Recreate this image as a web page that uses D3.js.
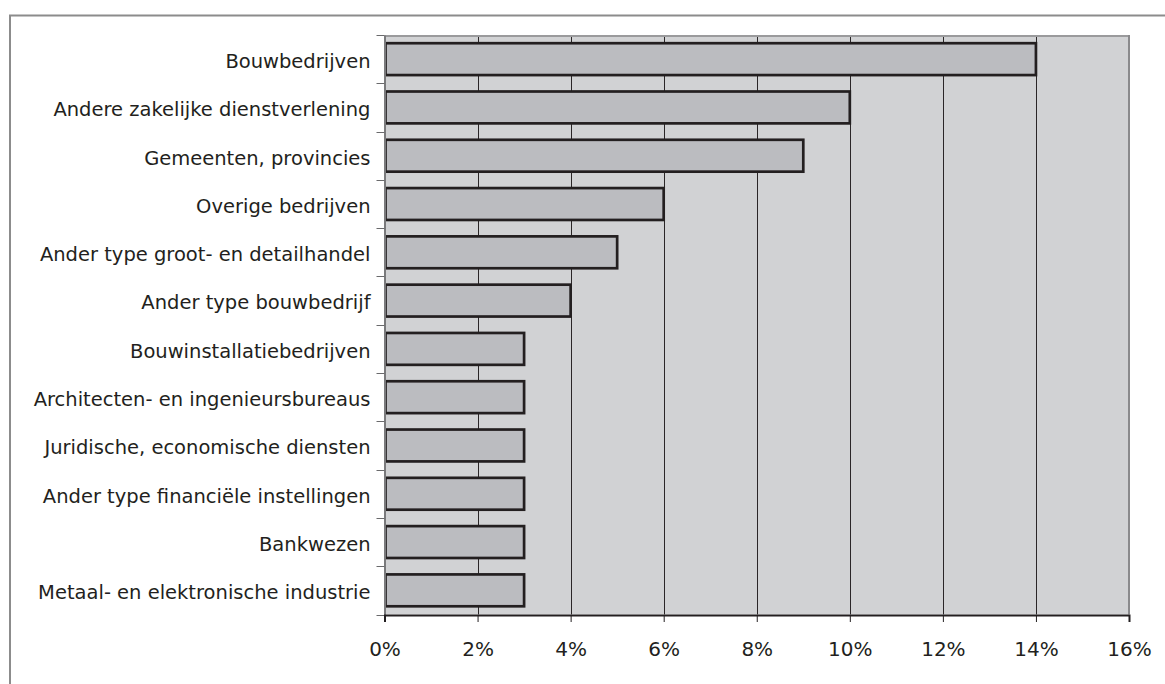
<!DOCTYPE html>
<html>
<head>
<meta charset="utf-8">
<script src="https://cdn.jsdelivr.net/npm/d3@7"></script>
<style>
  html, body { margin: 0; padding: 0; background: #fff; }
  svg { display: block; font-family: "DejaVu Sans", sans-serif; }
</style>
</head>
<body>
<svg id="chart" width="1165" height="684"></svg>
<script>
// Sectors, top to bottom, with their share in percent
const categories = [
  "Bouwbedrijven",
  "Andere zakelijke dienstverlening",
  "Gemeenten, provincies",
  "Overige bedrijven",
  "Ander type groot- en detailhandel",
  "Ander type bouwbedrijf",
  "Bouwinstallatiebedrijven",
  "Architecten- en ingenieursbureaus",
  "Juridische, economische diensten",
  "Ander type financiële instellingen",
  "Bankwezen",
  "Metaal- en elektronische industrie"
];
const shares = [14, 10, 9, 6, 5, 4, 3, 3, 3, 3, 3, 3];
const xTicks = [0, 2, 4, 6, 8, 10, 12, 14, 16];

const svg = d3.select("#chart");

// outer frame
svg.append("rect")
  .attr("x", 10).attr("y", 15.5)
  .attr("width", 1200).attr("height", 700)
  .attr("fill", "none").attr("stroke", "#8c8c8c").attr("stroke-width", 2);

const plotL = 384.5, plotR = 1129, plotT = 35, plotB = 614.5;

const x = d3.scaleLinear().domain([0, 16]).range([plotL, plotR]);
const y = d3.scaleBand().domain(categories).range([plotT, plotB]).paddingInner(0.34).paddingOuter(0.17);

// plot background
svg.append("rect")
  .attr("x", plotL).attr("y", plotT)
  .attr("width", plotR - plotL).attr("height", plotB - plotT)
  .attr("fill", "#d1d2d4");

// vertical gridlines
svg.append("g").selectAll("line")
  .data(xTicks.filter(d => d > 0 && d < 16))
  .join("line")
  .attr("x1", d => Math.round(x(d)) + 0.5).attr("x2", d => Math.round(x(d)) + 0.5)
  .attr("y1", plotT).attr("y2", plotB)
  .attr("stroke", "#2a2627").attr("stroke-width", 1);

// plot border: top and right
svg.append("line")
  .attr("x1", plotL).attr("x2", plotR + 1).attr("y1", plotT + 1).attr("y2", plotT + 1)
  .attr("stroke", "#9a9a9c").attr("stroke-width", 2);
svg.append("line")
  .attr("x1", plotR).attr("x2", plotR).attr("y1", plotT).attr("y2", plotB)
  .attr("stroke", "#8a8a8c").attr("stroke-width", 2);

// bars
svg.append("g").selectAll("rect")
  .data(categories)
  .join("rect")
  .attr("x", x(0) + 1)
  .attr("y", d => y(d))
  .attr("width", (d, i) => x(shares[i]) - x(0) - 1)
  .attr("height", y.bandwidth())
  .attr("fill", "#bbbcc0")
  .attr("stroke", "#231f20")
  .attr("stroke-width", 2.7);

// y axis
const yAxis = d3.axisLeft(y).tickSize(0).tickPadding(14);
const gy = svg.append("g").attr("transform", `translate(${plotL},0)`).call(yAxis);
gy.select(".domain").attr("stroke", "#7a7a7c").attr("stroke-width", 2);
gy.selectAll("text").attr("font-size", 19.5).attr("fill", "#231f20")
  .attr("dy", "0.45em")
  .attr("font-family", "DejaVu Sans, sans-serif");

// category separators on the y axis
const seps = categories.map(c => y(c) - y.step() * y.paddingInner() / 2);
seps.push(plotB);
svg.append("g").selectAll("line")
  .data(seps)
  .join("line")
  .attr("x1", plotL - 8).attr("x2", plotL)
  .attr("y1", d => Math.round(d) + 0.5).attr("y2", d => Math.round(d) + 0.5)
  .attr("stroke", "#6a6a6c").attr("stroke-width", 1);

// x axis
const xAxis = d3.axisBottom(x).tickValues(xTicks).tickFormat(d => d + "%").tickSize(7).tickPadding(20);
const gx = svg.append("g").attr("transform", `translate(0,${plotB + 0.5})`).call(xAxis);
gx.select(".domain").attr("stroke", "#231f20").attr("stroke-width", 2);
gx.selectAll(".tick line").attr("stroke", "#231f20");
gx.selectAll("text").attr("font-size", 20).attr("fill", "#231f20")
  .attr("font-family", "DejaVu Sans, sans-serif");
</script>
</body>
</html>
